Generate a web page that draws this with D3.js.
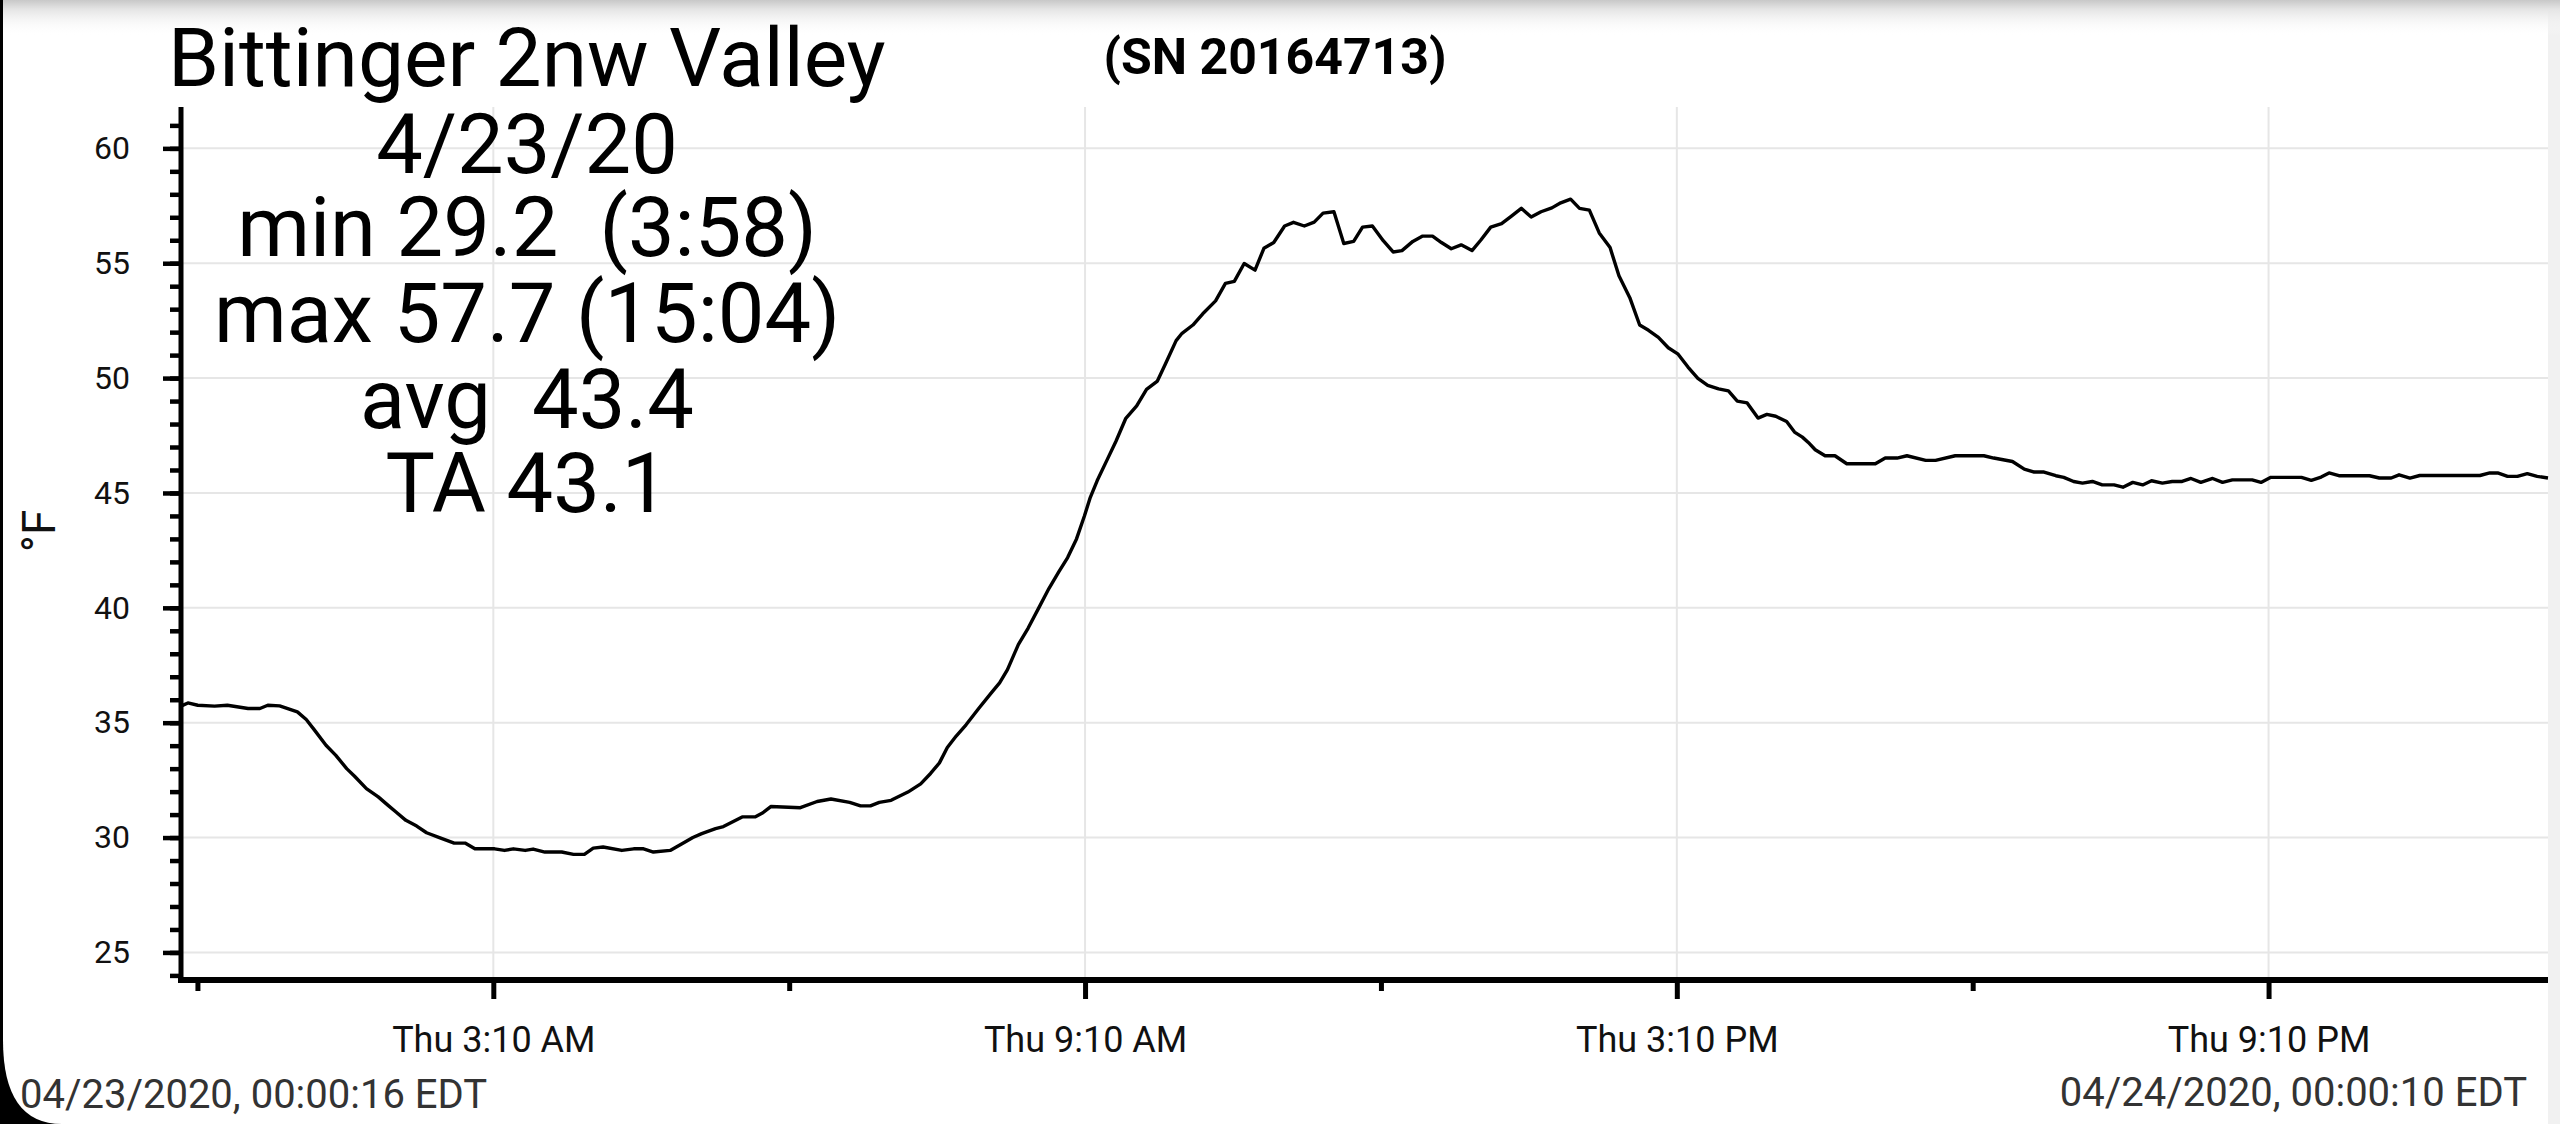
<!DOCTYPE html>
<html>
<head>
<meta charset="utf-8">
<script src="https://cdn.jsdelivr.net/npm/d3@7"></script>
<style>
    html, body { margin: 0; padding: 0; background: #000; }
    svg { display: block; font-family: Roboto, "Noto Sans", sans-serif; }
</style>
</head>
<body>
<svg id="drawing_region"></svg>
<script>
// hours since midnight 4/23/20 and temperature (°F)
const hours = [
    0.00, 0.07, 0.17, 0.34, 0.47, 0.68, 0.80, 0.88, 1.00, 1.18, 1.27, 1.35, 1.47, 1.57, 1.68, 1.76,
    1.88, 2.00, 2.10, 2.18, 2.28, 2.39, 2.49, 2.62, 2.77, 2.88, 2.98, 3.18, 3.28, 3.37, 3.49, 3.57,
    3.69, 3.86, 3.98, 4.09, 4.18, 4.28, 4.47, 4.59, 4.69, 4.79, 4.96, 5.08, 5.19, 5.28, 5.42, 5.50,
    5.69, 5.82, 5.90, 5.98, 6.28, 6.45, 6.59, 6.78, 6.89, 6.99, 7.08, 7.20, 7.37, 7.50, 7.60, 7.69,
    7.77, 7.86, 7.96, 8.09, 8.22, 8.30, 8.38, 8.49, 8.59, 8.70, 8.80, 8.90, 8.99, 9.08, 9.16, 9.22,
    9.29, 9.39, 9.48, 9.58, 9.69, 9.79, 9.90, 9.98, 10.09, 10.15, 10.26, 10.36, 10.49, 10.59, 10.68, 10.78,
    10.89, 10.98, 11.08, 11.19, 11.28, 11.39, 11.49, 11.58, 11.69, 11.79, 11.89, 11.98, 12.08, 12.19, 12.29, 12.38,
    12.49, 12.59, 12.69, 12.78, 12.88, 12.98, 13.09, 13.18, 13.28, 13.39, 13.49, 13.59, 13.69, 13.79, 13.90, 13.99,
    14.09, 14.18, 14.28, 14.38, 14.49, 14.58, 14.69, 14.79, 14.88, 14.98, 15.08, 15.18, 15.28, 15.38, 15.48, 15.59,
    15.69, 15.78, 15.88, 15.99, 16.08, 16.17, 16.28, 16.36, 16.44, 16.50, 16.57, 16.67, 16.77, 16.89, 17.18, 17.28,
    17.40, 17.50, 17.69, 17.79, 17.99, 18.28, 18.38, 18.57, 18.69, 18.79, 18.89, 19.01, 19.09, 19.19, 19.28, 19.38,
    19.48, 19.60, 19.69, 19.79, 19.89, 19.98, 20.09, 20.19, 20.29, 20.38, 20.48, 20.60, 20.70, 20.80, 21.00, 21.09,
    21.19, 21.50, 21.60, 21.70, 21.78, 21.88, 22.19, 22.29, 22.41, 22.49, 22.60, 22.70, 23.31, 23.41, 23.49, 23.59,
    23.69, 23.79, 23.89, 24.00
];
const temps = [
    35.72, 35.86, 35.76, 35.72, 35.76, 35.62, 35.62, 35.76, 35.73, 35.47, 35.14, 34.70, 34.02, 33.58, 33.00, 32.67,
    32.13, 31.77, 31.40, 31.11, 30.75, 30.50, 30.21, 30.00, 29.76, 29.76, 29.51, 29.51, 29.44, 29.51, 29.44, 29.50,
    29.37, 29.37, 29.27, 29.27, 29.54, 29.59, 29.44, 29.51, 29.51, 29.37, 29.44, 29.73, 30.00, 30.17, 30.39, 30.48,
    30.90, 30.90, 31.08, 31.35, 31.30, 31.57, 31.68, 31.53, 31.38, 31.38, 31.53, 31.62, 31.98, 32.34, 32.79, 33.25,
    33.92, 34.42, 34.91, 35.63, 36.32, 36.73, 37.31, 38.40, 39.12, 40.02, 40.84, 41.56, 42.19, 43.00, 44.00, 44.81,
    45.54, 46.44, 47.25, 48.25, 48.79, 49.51, 49.87, 50.60, 51.63, 51.95, 52.31, 52.80, 53.36, 54.12, 54.21, 54.99,
    54.70, 55.65, 55.90, 56.62, 56.78, 56.62, 56.79, 57.18, 57.24, 55.86, 55.95, 56.57, 56.62, 55.98, 55.49, 55.55,
    55.95, 56.18, 56.18, 55.90, 55.63, 55.80, 55.55, 56.01, 56.57, 56.72, 57.05, 57.39, 57.01, 57.24, 57.41, 57.63,
    57.79, 57.39, 57.31, 56.32, 55.68, 54.45, 53.50, 52.31, 52.08, 51.77, 51.32, 51.04, 50.48, 49.99, 49.68, 49.53,
    49.44, 49.00, 48.92, 48.26, 48.42, 48.34, 48.11, 47.65, 47.43, 47.20, 46.88, 46.62, 46.62, 46.27, 46.27, 46.52,
    46.52, 46.62, 46.42, 46.42, 46.62, 46.62, 46.52, 46.37, 46.04, 45.91, 45.91, 45.75, 45.68, 45.50, 45.43, 45.50,
    45.35, 45.35, 45.25, 45.46, 45.35, 45.53, 45.43, 45.50, 45.50, 45.63, 45.46, 45.63, 45.46, 45.57, 45.57, 45.46,
    45.68, 45.68, 45.55, 45.69, 45.87, 45.75, 45.75, 45.65, 45.65, 45.79, 45.65, 45.76, 45.76, 45.87, 45.87, 45.72,
    45.72, 45.84, 45.72, 45.65
];

const yMajorTicks = [25, 30, 35, 40, 45, 50, 55, 60];
const yMinorTicks = d3.range(24, 62);
const xMajorHours = [3 + 10/60, 9 + 10/60, 15 + 10/60, 21 + 10/60];
const xMinorHours = [10/60, 6 + 10/60, 12 + 10/60, 18 + 10/60];

const titleText = "Bittinger 2nw Valley";
const serialText = "(SN 20164713)";
const statLines = ["4/23/20", "min 29.2  (3:58)", "max 57.7 (15:04)", "avg  43.4", "TA 43.1"];
const startStamp = "04/23/2020, 00:00:16 EDT";
const endStamp = "04/24/2020, 00:00:10 EDT";
const yUnit = "°F";

const base = new Date(2020, 3, 23, 0, 0, 0);
const toDate = h => new Date(base.getTime() + h * 3600 * 1000);

class TempChart {

    constructor( config ) {
        this.config = config;
        this.data = hours.map( (h, i) => ({ t: toDate(h), v: temps[i] }) );
        this.init();
    }

    init() {
        let self = this;
        const c = self.config;

        self.svg = d3.select( c.parent )
            .attr('width', c.width)
            .attr('height', c.height);

        // phone screenshot frame: black edge, rounded lower-left corner, top shade
        self.svg.append('rect')
            .attr('width', c.width).attr('height', c.height)
            .attr('fill', '#000');
        self.svg.append('path')
            .attr('d', `M3,0 H${c.width} V${c.height} H62 Q3,${c.height} 3,1040 Z`)
            .attr('fill', '#fff');
        self.svg.append('rect')
            .attr('x', c.plot.right).attr('y', 0)
            .attr('width', c.width - c.plot.right).attr('height', c.height)
            .attr('fill', '#f1f1f1');

        const grad = self.svg.append('defs').append('linearGradient')
            .attr('id', 'topshade').attr('x1', 0).attr('y1', 0).attr('x2', 0).attr('y2', 1);
        grad.append('stop').attr('offset', '0%').attr('stop-color', '#c8c8c8');
        grad.append('stop').attr('offset', '25%').attr('stop-color', '#e4e4e4');
        grad.append('stop').attr('offset', '100%').attr('stop-color', '#ffffff').attr('stop-opacity', 0);
        self.svg.append('rect')
            .attr('x', 3).attr('y', 0).attr('width', c.width - 3).attr('height', 36)
            .attr('fill', 'url(#topshade)');

        self.xscale = d3.scaleTime()
            .domain( [toDate(0), toDate(24)] )
            .range( [c.plot.left, c.plot.right] );

        self.yscale = d3.scaleLinear()
            .domain( [23.8, 61.8] )
            .range( [c.plot.bottom, c.plot.top] );

        self.grid = self.svg.append('g');
        self.chart = self.svg.append('g');
        self.axes = self.svg.append('g');
    }

    render() {
        let self = this;
        const c = self.config;

        // grid
        self.grid.selectAll('.hgrid')
            .data(yMajorTicks)
            .join('line')
            .attr('x1', c.plot.left).attr('x2', c.plot.right)
            .attr('y1', d => self.yscale(d)).attr('y2', d => self.yscale(d))
            .attr('stroke', '#e6e6e6').attr('stroke-width', 2);

        self.grid.selectAll('.vgrid')
            .data(xMajorHours)
            .join('line')
            .attr('x1', d => self.xscale(toDate(d))).attr('x2', d => self.xscale(toDate(d)))
            .attr('y1', c.plot.top).attr('y2', c.plot.bottom)
            .attr('stroke', '#e6e6e6').attr('stroke-width', 2);

        // temperature line
        const line = d3.line()
            .x( d => self.xscale(d.t) )
            .y( d => self.yscale(d.v) );

        self.chart.append('path')
            .datum(self.data)
            .attr('d', line)
            .attr('fill', 'none')
            .attr('stroke', '#000')
            .attr('stroke-width', 3.4)
            .attr('stroke-linejoin', 'round');

        // y axis: minor ticks every degree, labelled majors every 5
        const yMinor = d3.axisLeft(self.yscale)
            .tickValues(yMinorTicks).tickSize(11).tickSizeOuter(0).tickFormat('');
        const yMajor = d3.axisLeft(self.yscale)
            .tickValues(yMajorTicks).tickSize(18).tickSizeOuter(0).tickPadding(33);

        const gyMinor = self.axes.append('g')
            .attr('transform', `translate(${c.plot.left},0)`).call(yMinor);
        const gyMajor = self.axes.append('g')
            .attr('transform', `translate(${c.plot.left},0)`).call(yMajor);
        [gyMinor, gyMajor].forEach( g => {
            g.select('.domain').remove();
            g.selectAll('line').attr('stroke', '#000').attr('stroke-width', 4.5);
        });
        gyMajor.selectAll('text')
            .attr('font-size', 32).attr('fill', '#111')
            .attr('font-family', 'Roboto');

        // x axis: ticks every 3 h, labelled ones every 6 h
        const xMinor = d3.axisBottom(self.xscale)
            .tickValues(xMinorHours.map(toDate)).tickSize(11).tickSizeOuter(0).tickFormat('');
        const xMajor = d3.axisBottom(self.xscale)
            .tickValues(xMajorHours.map(toDate)).tickSize(19).tickSizeOuter(0).tickPadding(27)
            .tickFormat(d3.timeFormat('%a %-I:%M %p'));

        const gxMinor = self.axes.append('g')
            .attr('transform', `translate(0,${c.plot.bottom})`).call(xMinor);
        const gxMajor = self.axes.append('g')
            .attr('transform', `translate(0,${c.plot.bottom})`).call(xMajor);
        [gxMinor, gxMajor].forEach( g => {
            g.select('.domain').remove();
            g.selectAll('line').attr('stroke', '#000').attr('stroke-width', 5);
        });
        gxMajor.selectAll('text')
            .attr('font-size', 36).attr('fill', '#111')
            .attr('font-family', 'Roboto');

        // axis lines
        self.axes.append('line')
            .attr('x1', c.plot.left).attr('x2', c.plot.left)
            .attr('y1', c.plot.top).attr('y2', c.plot.bottom + 3)
            .attr('stroke', '#000').attr('stroke-width', 5);
        self.axes.append('line')
            .attr('x1', c.plot.left - 3).attr('x2', c.plot.right)
            .attr('y1', c.plot.bottom).attr('y2', c.plot.bottom)
            .attr('stroke', '#000').attr('stroke-width', 6);

        // unit label
        self.svg.append('text')
            .attr('transform', 'translate(55,531) rotate(-90)')
            .attr('text-anchor', 'middle')
            .attr('font-size', 46)
            .attr('fill', '#111')
            .text(yUnit);

        // titles
        self.svg.append('text')
            .attr('x', 168).attr('y', 86)
            .attr('font-size', 82)
            .attr('fill', '#000')
            .text(titleText);

        self.svg.append('text')
            .attr('x', 1275).attr('y', 74)
            .attr('text-anchor', 'middle')
            .attr('font-size', 50)
            .attr('font-weight', 'bold')
            .attr('fill', '#000')
            .text(serialText);

        const statY = [173, 256, 342, 428, 512];
        self.svg.selectAll('.stat')
            .data(statLines)
            .join('text')
            .attr('x', 527)
            .attr('y', (d, i) => statY[i])
            .attr('text-anchor', 'middle')
            .attr('font-size', 83)
            .attr('fill', '#000')
            .style('white-space', 'pre')
            .text(d => d);

        // first / last sample stamps
        self.svg.append('text')
            .attr('x', 20).attr('y', 1108)
            .attr('font-size', 40).attr('fill', '#333')
            .text(startStamp);
        self.svg.append('text')
            .attr('x', 2527).attr('y', 1106)
            .attr('text-anchor', 'end')
            .attr('font-size', 40).attr('fill', '#333')
            .text(endStamp);
    }
}

const chart = new TempChart({
    parent: '#drawing_region',
    width: 2560,
    height: 1124,
    plot: { left: 181, right: 2548, top: 107, bottom: 980 }
});
chart.render();
</script>
</body>
</html>
